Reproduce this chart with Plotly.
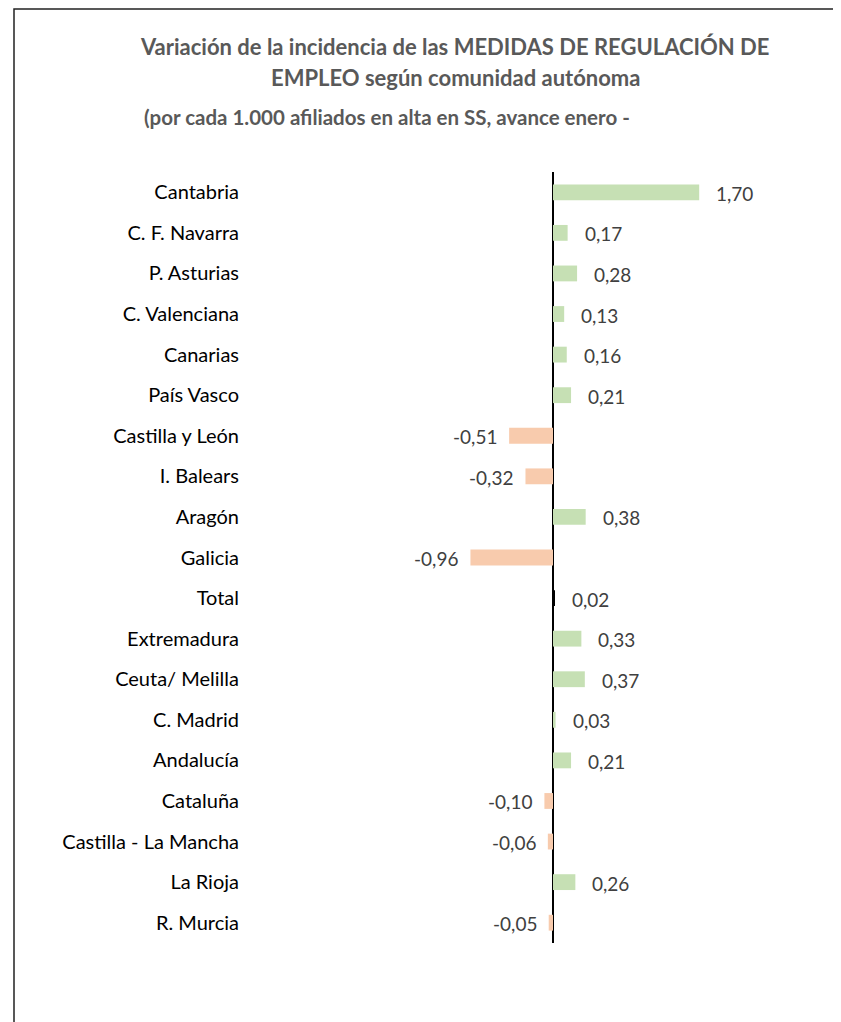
import plotly.graph_objects as go

categories = ["Cantabria", "C. F. Navarra", "P. Asturias", "C. Valenciana", "Canarias",
              "País Vasco", "Castilla y León", "I. Balears", "Aragón", "Galicia", "Total",
              "Extremadura", "Ceuta/ Melilla", "C. Madrid", "Andalucía", "Cataluña",
              "Castilla - La Mancha", "La Rioja", "R. Murcia"]
values = [1.70, 0.17, 0.28, 0.13, 0.16, 0.21, -0.51, -0.32, 0.38, -0.96, 0.02,
          0.33, 0.37, 0.03, 0.21, -0.10, -0.06, 0.26, -0.05]

GREEN = "#C6E0B4"
ORANGE = "#F8CBAD"
colors = ["#000000" if c == "Total" else (GREEN if v >= 0 else ORANGE)
          for c, v in zip(categories, values)]

FONT = "Lato"
OFF = 8  # browser default body margin
W, H = 841 - OFF, 1022 - OFF
AXIS_X = 553 - OFF
ML, MT = 250 - OFF, 172 - OFF
MR = W - (790 - OFF)
MB = H - (943 - OFF)
pw = W - ML - MR
ph = H - MT - MB
px_per_unit = 86.0
x0 = -(AXIS_X - ML) / px_per_unit
x1 = (W - MR - AXIS_X) / px_per_unit


def px(xp):
    return (xp - OFF - ML) / pw


def py(yp):
    return (H - MB - (yp - OFF)) / ph


fig = go.Figure(go.Bar(
    x=values, y=categories, orientation="h",
    marker=dict(color=colors, line=dict(width=0)),
    width=0.39, hoverinfo="skip",
))

for c, v in zip(categories, values):
    txt = f"{v:.2f}".replace(".", ",")
    fig.add_annotation(
        x=v, y=c, text=txt, showarrow=False,
        xanchor="left" if v >= 0 else "right",
        xshift=15 if v >= 0 else -10, yshift=-1,
        font=dict(family=FONT, size=19, color="#404040"),
    )

fig.add_annotation(
    xref="paper", yref="paper", x=px(455), y=py(47),
    text="<b>Variación de la incidencia de las MEDIDAS DE REGULACIÓN DE</b>",
    showarrow=False, xanchor="center", yanchor="middle",
    font=dict(family=FONT, size=22, color="#595959"),
)
fig.add_annotation(
    xref="paper", yref="paper", x=px(455), y=py(78),
    text="<b>EMPLEO según comunidad autónoma</b>",
    showarrow=False, xanchor="center", yanchor="middle",
    font=dict(family=FONT, size=22, color="#595959"),
)
fig.add_annotation(
    xref="paper", yref="paper", x=px(142), y=py(117),
    text="<b>(por cada 1.000 afiliados en alta en SS, avance enero -</b>",
    showarrow=False, xanchor="left", yanchor="middle",
    font=dict(family=FONT, size=20.5, color="#595959"),
)

# outer chart border
fig.add_shape(
    type="rect", xref="paper", yref="paper",
    x0=px(14), x1=px(870), y0=py(1060), y1=py(9),
    line=dict(color="#222222", width=1.5), fillcolor="rgba(0,0,0,0)", layer="above",
)

fig.update_layout(
    width=W, height=H,
    margin=dict(l=ML, r=MR, t=MT, b=MB),
    plot_bgcolor="white", paper_bgcolor="white",
    showlegend=False,
    bargap=0.61,
    xaxis=dict(range=[x0, x1], showgrid=False, showticklabels=False, ticks="",
               zeroline=True, zerolinecolor="#000000", zerolinewidth=2, showline=False,
               fixedrange=True),
    yaxis=dict(autorange="reversed", showgrid=False, ticks="", showline=False,
               tickfont=dict(family=FONT, size=20, color="#000000"),
               ticklabelstandoff=10, fixedrange=True),
)

fig.write_html("out.html")
